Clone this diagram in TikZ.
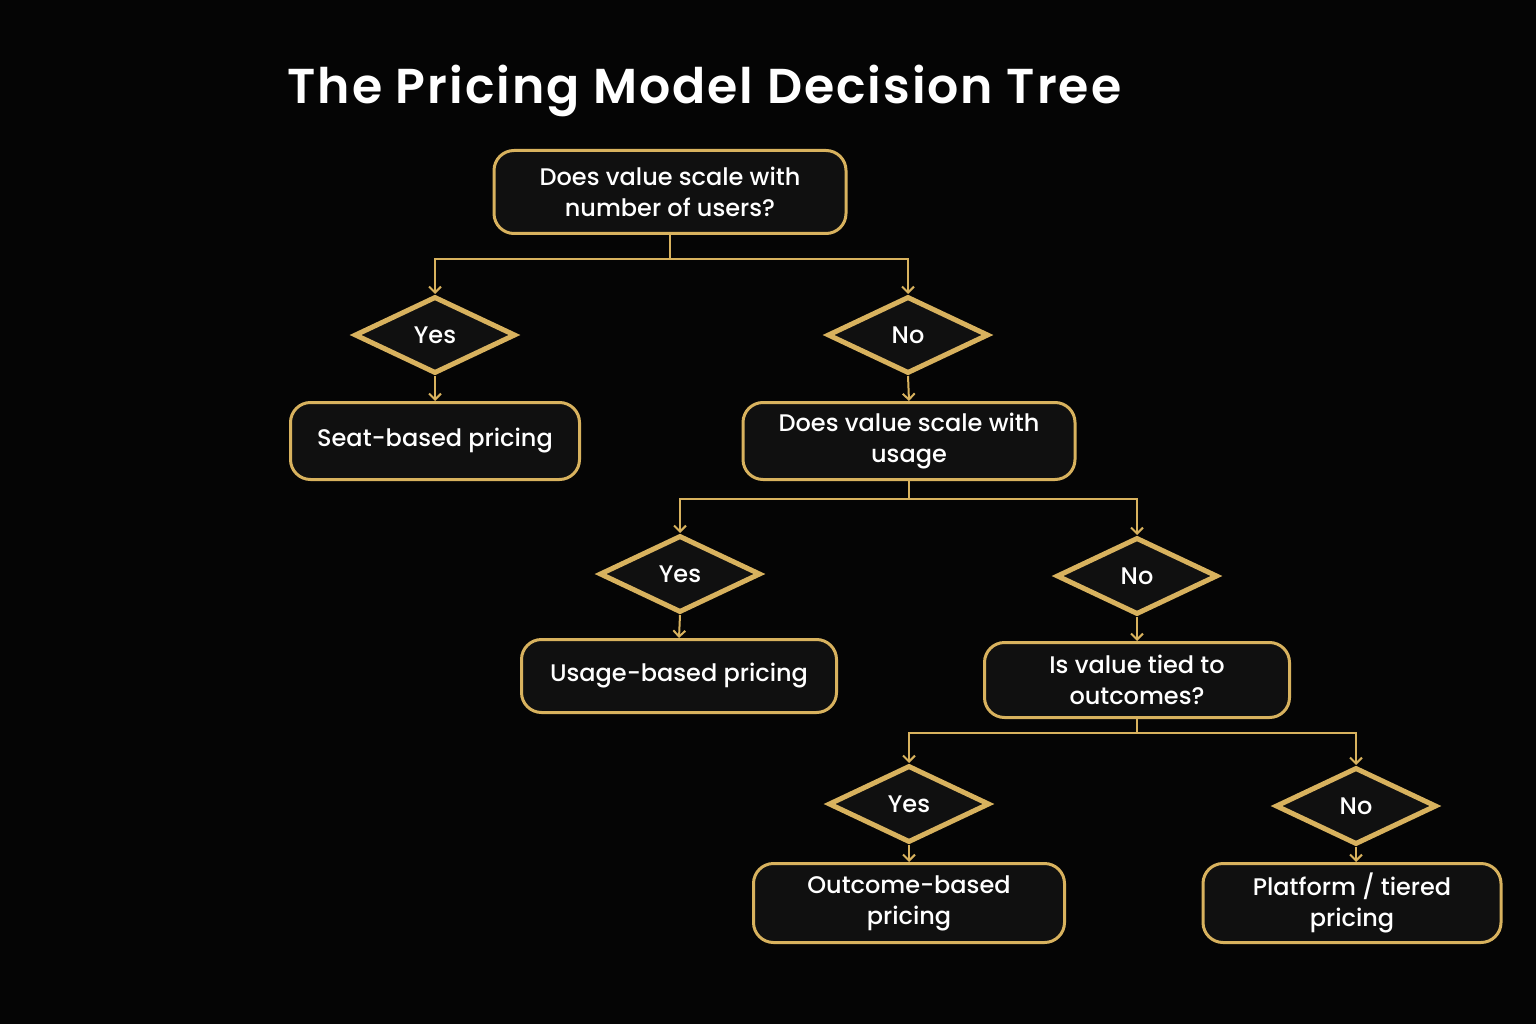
\documentclass[tikz,border=0pt]{standalone}
\usepackage{fontspec}
\setmainfont{Poppins}
\newfontfamily\titlefont{Poppins SemiBold}[LetterSpace=4]
\newfontfamily\bodyfont{Poppins Medium}
\usetikzlibrary{shapes.geometric,arrows.meta}
\definecolor{bg}{HTML}{050505}
\definecolor{gold}{HTML}{D8B25E}
\definecolor{boxfill}{HTML}{101010}
\begin{document}
\begin{tikzpicture}[x=1pt,y=-1pt,
  qbox/.style={draw=gold, line width=3pt, fill=boxfill, rounded corners=20pt, align=center,
    text=white, font=\bodyfont\fontsize{24}{31}\selectfont, inner sep=0pt},
  dec/.style={diamond, draw=gold, line width=5pt, fill=boxfill, minimum width=161pt,
    minimum height=77pt, inner sep=0pt, text=white, font=\bodyfont\fontsize{24}{26}\selectfont},
  conn/.style={draw=gold, line width=2pt},
  arr/.style={conn, -{Straight Barb[length=6pt,width=12pt,line width=2pt]}}
]
\fill[bg] (0,0) rectangle (1536,1024);
\useasboundingbox (0,0) rectangle (1536,1024);

\node[anchor=west, text=white, font=\titlefont\fontsize{49}{53}\selectfont] (title) at (284,91) {The Pricing Model Decision Tree};

% level 1
\node[qbox, minimum width=352pt, minimum height=83pt] (q1) at (670,192) {Does value scale with\\number of users?};
\node[dec] (y1) at (435,335) {Yes};
\node[dec] (n1) at (908,335) {No};
\node[qbox, minimum width=289pt, minimum height=77pt] (seat) at (435,441) {Seat-based pricing};
\node[qbox, minimum width=332pt, minimum height=77pt] (q2) at (909,441) {Does value scale with\\usage};

% level 2
\node[dec] (y2) at (680,574) {Yes};
\node[dec] (n2) at (1137,576) {No};
\node[qbox, minimum width=315pt, minimum height=73pt] (usage) at (679,676) {Usage-based pricing};
\node[qbox, minimum width=305pt, minimum height=75pt] (q3) at (1137,680) {Is value tied to\\outcomes?};

% level 3
\node[dec] (y3) at (909,804) {Yes};
\node[dec] (n3) at (1356,806) {No};
\node[qbox, minimum width=311pt, minimum height=79pt] (outc) at (909,903) {Outcome-based\\pricing};
\node[qbox, minimum width=298pt, minimum height=79pt] (plat) at (1352,903) {Platform / tiered\\pricing};

% connectors
\coordinate (j1) at (q1.south |- 0,259);
\draw[conn] (q1.south) -- (j1);
\draw[arr] (j1) -| (y1.north);
\draw[arr] (j1) -| (n1.north);
\draw[arr] (y1.south) -- (seat.north);
\draw[arr] (n1.south) -- (q2.north);

\coordinate (j2) at (q2.south |- 0,499);
\draw[conn] (q2.south) -- (j2);
\draw[arr] (j2) -| (y2.north);
\draw[arr] (j2) -| (n2.north);
\draw[arr] (y2.south) -- (usage.north);
\draw[arr] (n2.south) -- (q3.north);

\coordinate (j3) at (q3.south |- 0,733);
\draw[conn] (q3.south) -- (j3);
\draw[arr] (j3) -| (y3.north);
\draw[arr] (j3) -| (n3.north);
\draw[arr] (y3.south) -- (outc.north);
\draw[arr] (n3.south) -- (n3.south |- plat.north);
\end{tikzpicture}
\end{document}
